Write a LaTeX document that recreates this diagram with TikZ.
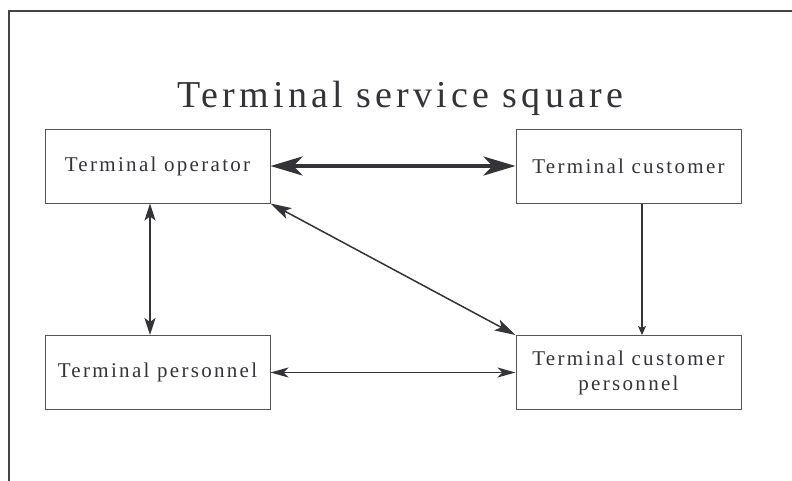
\documentclass[tikz,border=0pt]{standalone}
\usepackage{fontspec}
\setmainfont{Liberation Serif}[LetterSpace=11]
\usetikzlibrary{arrows.meta}
\definecolor{ink}{HTML}{333338}
\definecolor{boxc}{HTML}{555558}
\definecolor{framec}{HTML}{444448}
\tikzset{
  box/.style={draw=boxc, line width=1pt, minimum width=225pt, minimum height=74pt,
    inner sep=0pt, align=center, text=ink, font=\fontsize{21}{25}\selectfont},
  bigarrow/.style={draw=ink, line width=4pt,
    {Stealth[length=32pt,width=19pt,inset=9pt]}-{Stealth[length=32pt,width=19pt,inset=9pt]}},
  midarrow/.style={draw=ink, line width=2pt,
    {Stealth[length=17pt,width=11pt,inset=4pt]}-{Stealth[length=17pt,width=11pt,inset=4pt]}},
  thinarrow/.style={draw=ink, line width=1.5pt,
    {Stealth[length=18pt,width=10pt,inset=5pt]}-{Stealth[length=18pt,width=10pt,inset=5pt]}},
  diagarrow/.style={draw=ink, line width=1.5pt,
    {Stealth[length=21pt,width=12pt,inset=5pt]}-{Stealth[length=21pt,width=12pt,inset=5pt]}},
  onearrow/.style={draw=ink, line width=1.5pt, -{Stealth[length=9pt,width=8pt,inset=2pt]}}
}
\begin{document}
\begin{tikzpicture}[x=1pt,y=-1pt]
\useasboundingbox (0,0) rectangle (792,480);
\draw[framec, line width=2pt] (9,481) -- (9,11) -- (793,11);
\node[text=ink, font=\fontsize{38}{44}\selectfont, anchor=base] (title) at (400,107) {Terminal service square};
\node[box] (op) at (157.5,166) {Terminal operator};
\node[box] (cu) at (628.5,166) {Terminal customer};
\node[box] (pe) at (157.5,372.5) {Terminal personnel};
\node[box] (cp) at (628.5,372.5) {Terminal customer\\personnel};
\draw[bigarrow] (op.east) -- (cu.west);
\draw[midarrow] ([xshift=-7.5pt]op.south) -- ([xshift=-7.5pt]pe.north);
\draw[diagarrow] (op.south east) -- (cp.north west);
\draw[onearrow] ([xshift=13.5pt]cu.south) -- ([xshift=13.5pt]cp.north);
\draw[thinarrow] (pe.east) -- (cp.west);
\end{tikzpicture}
\end{document}
